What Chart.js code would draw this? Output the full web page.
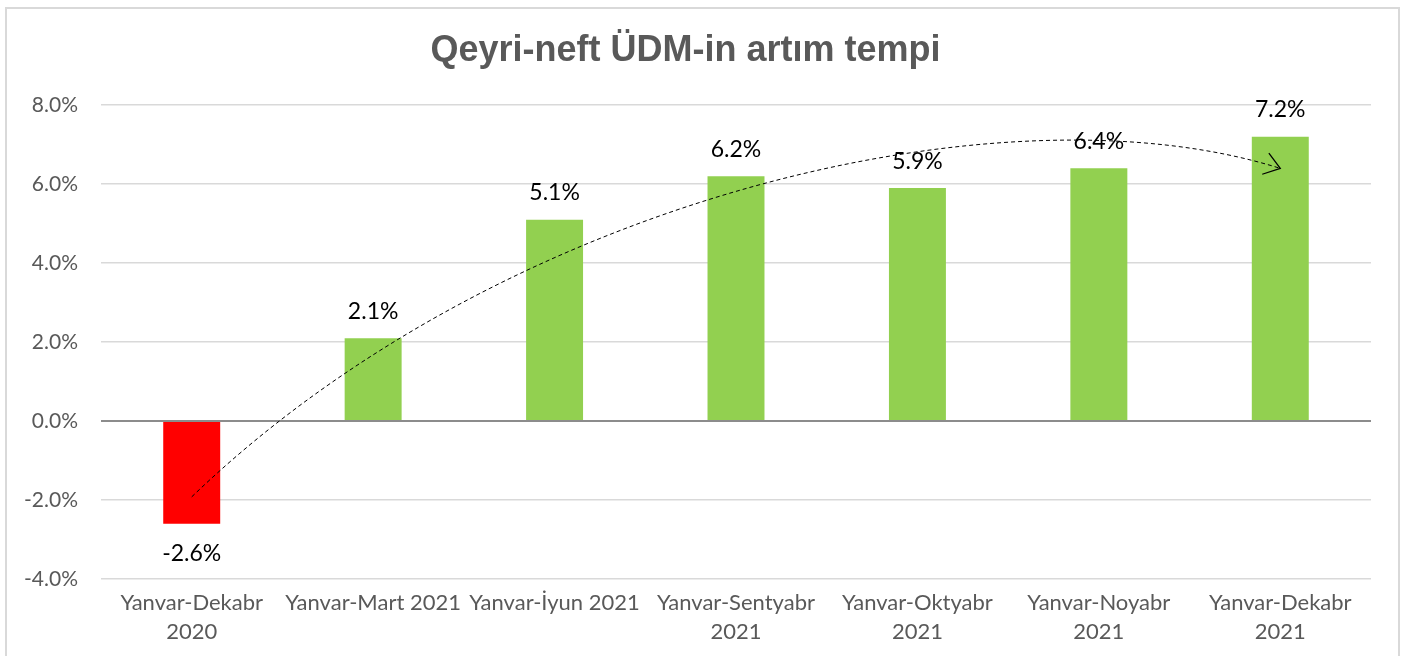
<!DOCTYPE html>
<html>
<head>
<meta charset="utf-8">
<script src="https://cdn.jsdelivr.net/npm/chart.js@4.4.1/dist/chart.umd.min.js"></script>
<style>
  html, body { margin: 0; padding: 0; background: #ffffff; }
  #wrap { position: absolute; left: 0; top: 0; width: 1406px; height: 656px; }
</style>
</head>
<body>
<div id="wrap"><canvas id="c" width="1406" height="656"></canvas></div>
<script>
const chartTitle = "Qeyri-neft ÜDM-in artım tempi";
const categories = [
  ["Yanvar-Dekabr", "2020"],
  "Yanvar-Mart 2021",
  "Yanvar-İyun 2021",
  ["Yanvar-Sentyabr", "2021"],
  ["Yanvar-Oktyabr", "2021"],
  ["Yanvar-Noyabr", "2021"],
  ["Yanvar-Dekabr", "2021"]
];
const growthValues = [-2.6, 2.1, 5.1, 6.2, 5.9, 6.4, 7.2];
const yTickMin = -4;
const yTickMax = 8;
const yTickStep = 2;
// Trend arrow (cubic curve) control points in data units: category index and percent value
const trendX = [0, 1.7, 4.46, 6.0];
const trendY = [-1.92, 5.6, 8.63, 6.4];

const positiveColor = '#92d050';
const negativeColor = '#ff0000';
const labelFont = "Lato, 'Open Sans', sans-serif";

const frameBorder = {
  id: 'frameBorder',
  beforeDraw(chart) {
    const ctx = chart.ctx;
    ctx.save();
    ctx.fillStyle = '#ffffff';
    ctx.fillRect(0, 0, chart.width, chart.height);
    ctx.strokeStyle = '#d9d9d9';
    ctx.lineWidth = 2;
    ctx.strokeRect(6, 8, 1393, 700);
    ctx.restore();
  }
};

const valueLabels = {
  id: 'valueLabels',
  afterDatasetsDraw(chart) {
    const ctx = chart.ctx;
    const meta = chart.getDatasetMeta(0);
    ctx.save();
    ctx.font = "23px " + labelFont;
    ctx.fillStyle = '#000000';
    ctx.textAlign = 'center';
    ctx.textBaseline = 'middle';
    meta.data.forEach((bar, i) => {
      const v = growthValues[i];
      const y = v >= 0 ? bar.y - 27 : bar.y + 30;
      ctx.fillText(v.toFixed(1) + '%', bar.x, y);
    });
    ctx.restore();
  }
};

const trendArrow = {
  id: 'trendArrow',
  afterDatasetsDraw(chart) {
    const xs = chart.scales.x, ys = chart.scales.y;
    const px = trendX.map(v => xs.getPixelForValue(v));
    const py = trendY.map(v => ys.getPixelForValue(v));
    const ctx = chart.ctx;
    ctx.save();
    ctx.strokeStyle = '#000000';
    ctx.lineWidth = 1;
    ctx.setLineDash([4, 3]);
    ctx.beginPath();
    ctx.moveTo(px[0], py[0]);
    ctx.bezierCurveTo(px[1], py[1], px[2], py[2], px[3], py[3]);
    ctx.stroke();
    ctx.setLineDash([]);
    const ang = Math.atan2(py[3] - py[2], px[3] - px[2]);
    const len = 19, spread = 0.62;
    ctx.lineWidth = 1.3;
    ctx.beginPath();
    ctx.moveTo(px[3] - len * Math.cos(ang - spread), py[3] - len * Math.sin(ang - spread));
    ctx.lineTo(px[3], py[3]);
    ctx.lineTo(px[3] - len * Math.cos(ang + spread), py[3] - len * Math.sin(ang + spread));
    ctx.stroke();
    ctx.restore();
  }
};

new Chart(document.getElementById('c'), {
  type: 'bar',
  data: {
    labels: categories,
    datasets: [{
      data: growthValues,
      backgroundColor: growthValues.map(v => v < 0 ? negativeColor : positiveColor),
      borderWidth: 0,
      categoryPercentage: 1.0,
      barPercentage: 0.314
    }]
  },
  options: {
    responsive: false,
    animation: false,
    devicePixelRatio: 1,
    layout: { padding: { left: 0, right: 35, top: 0, bottom: 0 } },
    plugins: {
      legend: { display: false },
      tooltip: { enabled: false },
      title: {
        display: true,
        text: chartTitle,
        color: '#595959',
        font: { family: "'Liberation Sans', Arial, sans-serif", size: 36, weight: 'bold', lineHeight: 1.2 },
        padding: { top: 29, bottom: 33 }
      }
    },
    scales: {
      x: {
        grid: { display: false, drawTicks: false },
        border: { display: false },
        ticks: {
          color: '#595959',
          font: { family: labelFont, size: 22, lineHeight: 1.32 },
          padding: 9,
          maxRotation: 0,
          minRotation: 0,
          autoSkip: false
        },
        afterFit(scale) { scale.height = 77; }
      },
      y: {
        min: yTickMin,
        max: yTickMax,
        grid: {
          drawTicks: false,
          color: ctx => (ctx.tick && ctx.tick.value === 0) ? '#8c8c8c' : '#d9d9d9',
          lineWidth: ctx => (ctx.tick && ctx.tick.value === 0) ? 2 : 1.5
        },
        border: { display: false },
        ticks: {
          stepSize: yTickStep,
          color: '#595959',
          font: { family: labelFont, size: 21 },
          padding: 23,
          callback: v => v.toFixed(1) + '%'
        },
        afterFit(scale) { scale.width = 101; }
      }
    }
  },
  plugins: [frameBorder, trendArrow, valueLabels]
});
</script>
</body>
</html>
